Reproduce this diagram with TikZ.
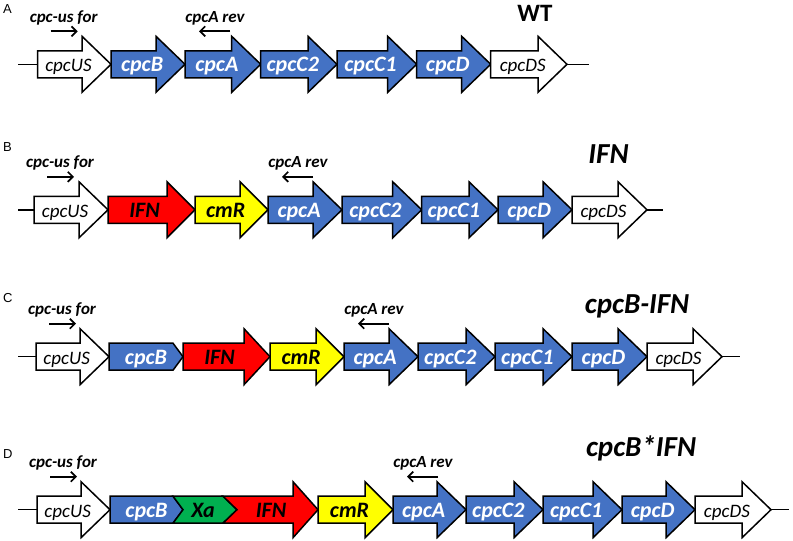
\documentclass[tikz,border=0pt]{standalone}
\usepackage{fontspec}
\setmainfont{Carlito}
\newfontfamily\panelfont{Liberation Sans}
\usetikzlibrary{arrows.meta}
\definecolor{geneblue}{HTML}{4472C4}
\definecolor{genered}{HTML}{FF0000}
\definecolor{geneyellow}{HTML}{FFFF00}
\definecolor{genegreen}{HTML}{00B050}
\tikzset{
  genebox/.style={draw=black, line width=1.5pt, line join=miter},
  wlab/.style={anchor=base, text=white, font=\fontsize{22}{22}\selectfont\bfseries\itshape, inner sep=0pt},
  blab/.style={anchor=base, text=black, font=\fontsize{22}{22}\selectfont\bfseries\itshape, inner sep=0pt},
  ulab/.style={anchor=base, text=black, font=\fontsize{19}{19}\selectfont\itshape, inner sep=0pt},
  primerlab/.style={anchor=base, font=\fontsize{17}{17}\selectfont\bfseries\itshape, inner sep=0pt},
  primer/.style={line width=1.7pt, -{Straight Barb[length=5pt,width=10pt]}},
  backbone/.style={line width=1.5pt},
  titlelab/.style={anchor=base, font=\fontsize{29}{29}\selectfont\bfseries\itshape, inner sep=0pt},
  panel/.style={anchor=base west, font=\panelfont\fontsize{13}{13}\selectfont, inner sep=0pt},
}
% name, x0, x1, yc, fill, label style, text, head length
\newcommand{\genearrow}[8]{%
  \draw[genebox,fill=#5] (#2,#4-13.5) -- (#3-#8,#4-13.5) -- (#3-#8,#4-28) -- (#3,#4) -- (#3-#8,#4+28) -- (#3-#8,#4+13.5) -- (#2,#4+13.5) -- cycle;
  \node[#6] (#1) at ({#2+0.42*(#3-#2)},#4+7.5) {#7};}
% name, x0, x1, yc, fill, label style, text, point length
\newcommand{\genepent}[8]{%
  \draw[genebox,fill=#5] (#2,#4-13.5) -- (#3-#8,#4-13.5) -- (#3,#4) -- (#3-#8,#4+13.5) -- (#2,#4+13.5) -- cycle;
  \node[#6] (#1) at ({#2+0.5*(#3-#8-#2)+5},#4+7.5) {#7};}
% row, cpcUS start, cpcA start, yc
\newcommand{\primerpair}[4]{%
  \node[primerlab] (#1-pfl) at (#2+26,#4-42) {cpc-us for};
  \coordinate (#1-pf1) at (#2+13,#4-33);
  \coordinate (#1-pf2) at (#2+40,#4-33);
  \draw[primer] (#1-pf1) -- (#1-pf2);
  \node[primerlab] (#1-prl) at (#3+30,#4-42) {cpcA rev};
  \coordinate (#1-pr1) at (#3+45,#4-33);
  \coordinate (#1-pr2) at (#3+14,#4-33);
  \draw[primer] (#1-pr1) -- (#1-pr2);}
% row, left end, first start, last end, right end, yc
\newcommand{\backboneline}[6]{%
  \coordinate (#1-b0) at (#2,#6); \coordinate (#1-b1) at (#3,#6);
  \coordinate (#1-b2) at (#4,#6); \coordinate (#1-b3) at (#5,#6);
  \draw[backbone] (#1-b0) -- (#1-b1);
  \draw[backbone] (#1-b2) -- (#1-b3);}
\begin{document}
\begin{tikzpicture}[x=1pt,y=-1pt]
\useasboundingbox (0,0) rectangle (793,541);
\fill[white] (0,0) rectangle (793,541);

% ---------- A ----------
\node[panel] (pA) at (3,13) {A};
\node[titlelab, font=\fontsize{25}{25}\selectfont\bfseries] (tA) at (535,21) {WT};
\backboneline{A}{18}{37.7}{567}{589}{64.3}
\genearrow{A-us}{37.7}{111}{64.3}{white}{ulab}{cpcUS}{29}
\genearrow{A-B}{111}{185}{64.3}{geneblue}{wlab}{cpcB}{29}
\genearrow{A-A}{185}{260.7}{64.3}{geneblue}{wlab}{cpcA}{29}
\genearrow{A-C2}{260.7}{337}{64.3}{geneblue}{wlab}{cpcC2}{29}
\genearrow{A-C1}{337}{416.7}{64.3}{geneblue}{wlab}{cpcC1}{29}
\genearrow{A-D}{416.7}{490.7}{64.3}{geneblue}{wlab}{cpcD}{29}
\genearrow{A-ds}{490.7}{567}{64.3}{white}{ulab}{cpcDS}{29}
\primerpair{A}{37.7}{185}{64.3}

% ---------- B ----------
\node[panel] (pB) at (3,151) {B};
\node[titlelab] (tB) at (608.5,163) {IFN};
\backboneline{B}{18}{34}{647}{663}{209.8}
\genearrow{B-us}{34}{108}{209.8}{white}{ulab}{cpcUS}{29}
\genearrow{B-IFN}{108}{195}{209.8}{genered}{blab}{IFN}{28}
\genearrow{B-cmR}{195}{268}{209.8}{geneyellow}{blab}{cmR}{28}
\genearrow{B-A}{268}{342}{209.8}{geneblue}{wlab}{cpcA}{29}
\genearrow{B-C2}{342}{421.7}{209.8}{geneblue}{wlab}{cpcC2}{29}
\genearrow{B-C1}{421.7}{498}{209.8}{geneblue}{wlab}{cpcC1}{29}
\genearrow{B-D}{498}{572}{209.8}{geneblue}{wlab}{cpcD}{29}
\genearrow{B-ds}{572}{647}{209.8}{white}{ulab}{cpcDS}{29}
\primerpair{B}{34}{268}{209.8}

% ---------- C ----------
\node[panel] (pC) at (3,302) {C};
\node[titlelab] (tC) at (637,313) {cpcB-IFN};
\backboneline{C}{18}{36}{722}{740}{356.7}
\genearrow{C-us}{36}{109}{356.7}{white}{ulab}{cpcUS}{29}
\genepent{C-B}{109}{183}{356.7}{geneblue}{wlab}{cpcB}{10}
\genearrow{C-IFN}{183}{270}{356.7}{genered}{blab}{IFN}{26}
\genearrow{C-cmR}{270}{344}{356.7}{geneyellow}{blab}{cmR}{28}
\genearrow{C-A}{344}{418}{356.7}{geneblue}{wlab}{cpcA}{29}
\genearrow{C-C2}{418}{495}{356.7}{geneblue}{wlab}{cpcC2}{29}
\genearrow{C-C1}{495}{572}{356.7}{geneblue}{wlab}{cpcC1}{29}
\genearrow{C-D}{572}{647}{356.7}{geneblue}{wlab}{cpcD}{29}
\genearrow{C-ds}{647}{722}{356.7}{white}{ulab}{cpcDS}{29}
\primerpair{C}{36}{344}{356.7}

% ---------- D ----------
\node[panel] (pD) at (3,458) {D};
\node[titlelab] (tD) at (641,456) {cpcB*IFN};
\backboneline{D}{18}{37}{771}{789}{509.7}
\genearrow{D-us}{37}{110}{509.7}{white}{ulab}{cpcUS}{29}
\genepent{D-B}{110}{183}{509.7}{geneblue}{wlab}{cpcB}{10}
\draw[genebox,fill=genegreen] (173,509.7-13.5) -- (223,509.7-13.5) -- (237,509.7) -- (223,509.7+13.5) -- (173,509.7+13.5) -- (183,509.7) -- cycle;
\node[blab] (D-Xa) at (203,517.2) {Xa};
\draw[genebox,fill=genered] (223,509.7-13.5) -- (293,509.7-13.5) -- (293,509.7-28) -- (318,509.7) -- (293,509.7+28) -- (293,509.7+13.5) -- (223,509.7+13.5) -- (237,509.7) -- cycle;
\node[blab] (D-IFN) at (271,517.2) {IFN};
\genearrow{D-cmR}{318}{393}{509.7}{geneyellow}{blab}{cmR}{28}
\genearrow{D-A}{393}{466}{509.7}{geneblue}{wlab}{cpcA}{29}
\genearrow{D-C2}{466}{543}{509.7}{geneblue}{wlab}{cpcC2}{29}
\genearrow{D-C1}{543}{622}{509.7}{geneblue}{wlab}{cpcC1}{29}
\genearrow{D-D}{622}{695}{509.7}{geneblue}{wlab}{cpcD}{29}
\genearrow{D-ds}{695}{771}{509.7}{white}{ulab}{cpcDS}{29}
\primerpair{D}{37}{393}{509.7}
\end{tikzpicture}
\end{document}
